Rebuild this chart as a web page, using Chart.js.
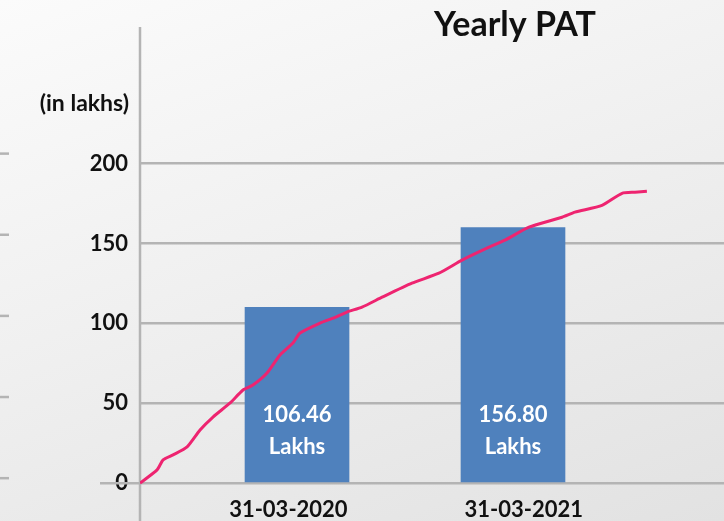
<!DOCTYPE html>
<html>
<head>
<meta charset="utf-8">
<script src="https://cdn.jsdelivr.net/npm/chart.js@4/dist/chart.umd.min.js"></script>
<style>
  html, body { margin: 0; padding: 0; }
  body { width: 724px; height: 521px; overflow: hidden;
         background: linear-gradient(160deg, #fbfbfb 0%, #f0f0f0 45%, #e2e2e2 100%); }
  #wrap { position: relative; width: 724px; height: 521px; }
</style>
</head>
<body>
<div id="wrap"><canvas id="graficoPat" width="724" height="521"></canvas></div>
<script>
// --- datos ---
const categorias = ['31-03-2020', '31-03-2021'];
const posicionBarras = [1, 2];
const posicionEtiquetas = [0.96, 2.05];
const valoresBarras = [110, 160];
const etiquetasBarras = ['106.46', '156.80'];
const ticksY = [0, 50, 100, 150, 200];

// tendencia (rosa)
const lineaX = [0.273, 0.352, 0.380, 0.426, 0.491, 0.551, 0.611, 0.690, 0.750, 0.796, 0.861, 0.921,
    0.981, 1.014, 1.106, 1.167, 1.231, 1.301, 1.394, 1.532, 1.657, 1.764, 1.889, 1.963, 2.074,
    2.227, 2.287, 2.412, 2.505, 2.565, 2.620];
const lineaY = [0, 8.3, 14.6, 17.7, 22.7, 33.3, 41.4, 50.2, 58.3, 61.4, 68.9, 80.2,
    87.7, 94.0, 100.2, 103.3, 107.1, 110.2, 116.4, 125.2, 131.4, 139.6, 147.7, 152.1, 160.2,
    166.4, 169.6, 173.9, 181.4, 182.1, 182.7];

const FUENTE = 'Lato, "Open Sans", sans-serif';

// textos y adornos que Chart.js no dibuja por sí mismo
const adornos = {
    id: 'adornos',
    beforeDatasetsDraw(chart) {
        const c = chart.ctx;
        const y = chart.scales.y;
        const x = chart.scales.x;
        c.save();
        c.strokeStyle = '#b4b4b4';
        c.lineWidth = 2.5;
        // eje vertical hasta abajo
        c.beginPath();
        c.moveTo(x.left, chart.chartArea.top);
        c.lineTo(x.left, chart.height);
        c.stroke();
        // marca del cero hacia la izquierda
        c.beginPath();
        c.moveTo(100, y.getPixelForValue(0));
        c.lineTo(x.left, y.getPixelForValue(0));
        c.stroke();
        // marcas del borde izquierdo
        ticksY.forEach(v => {
            const py = y.getPixelForValue(v) - 5 - v / 40;
            c.beginPath();
            c.moveTo(0, py);
            c.lineTo(9, py);
            c.stroke();
        });
        c.restore();
    },
    afterDatasetsDraw(chart) {
        const c = chart.ctx;
        c.save();
        // etiquetas dentro de las barras
        const meta = chart.getDatasetMeta(0);
        c.fillStyle = '#ffffff';
        c.textAlign = 'center';
        c.textBaseline = 'middle';
        c.font = 'bold 22px ' + FUENTE;
        meta.data.forEach((bar, i) => {
            c.fillText(etiquetasBarras[i], bar.x, bar.base - 67);
            c.fillText('Lakhs', bar.x, bar.base - 35);
        });
        // titulo y unidad
        c.fillStyle = '#111111';
        c.font = 'bold 34px ' + FUENTE;
        c.fillText('Yearly PAT', 515, 25);
        c.textAlign = 'right';
        c.font = 'bold 23px ' + FUENTE;
        c.fillText('(in lakhs)', 129, 104);
        c.restore();
    }
};

const ctx = document.getElementById('graficoPat').getContext('2d');

new Chart(ctx, {
    data: {
        datasets: [
            {
                type: 'bar',
                data: posicionBarras.map((p, i) => ({ x: p, y: valoresBarras[i] })),
                backgroundColor: '#4f81bd',
                barThickness: 104,
                order: 2
            },
            {
                type: 'line',
                data: lineaX.map((p, i) => ({ x: p, y: lineaY[i] })),
                borderColor: '#ee2470',
                borderWidth: 3,
                pointRadius: 0,
                tension: 0.2,
                order: 1
            }
        ]
    },
    options: {
        responsive: false,
        animation: false,
        layout: { padding: { top: 27, left: 0, right: 0, bottom: 0 } },
        plugins: { legend: { display: false }, tooltip: { enabled: false } },
        scales: {
            x: {
                type: 'linear',
                min: 0.273,
                max: 2.977,
                offset: false,
                position: { y: 0 },
                grid: { display: false, drawTicks: false, offset: false },
                border: { display: false },
                afterBuildTicks: axis => { axis.ticks = posicionEtiquetas.map(v => ({ value: v })); },
                ticks: {
                    padding: 14,
                    color: '#111111',
                    font: { family: FUENTE, size: 22, weight: 'bold' },
                    callback: (v, i) => categorias[i]
                }
            },
            y: {
                min: -7.9,
                max: 285.5,
                afterFit: axis => { axis.width = 140; },
                afterBuildTicks: axis => { axis.ticks = ticksY.map(v => ({ value: v })); },
                grid: { color: '#b4b4b4', lineWidth: 2.5, drawTicks: false },
                border: { display: false },
                ticks: {
                    padding: 12,
                    color: '#111111',
                    font: { family: FUENTE, size: 22, weight: 'bold' }
                }
            }
        }
    },
    plugins: [adornos]
});
</script>
</body>
</html>
